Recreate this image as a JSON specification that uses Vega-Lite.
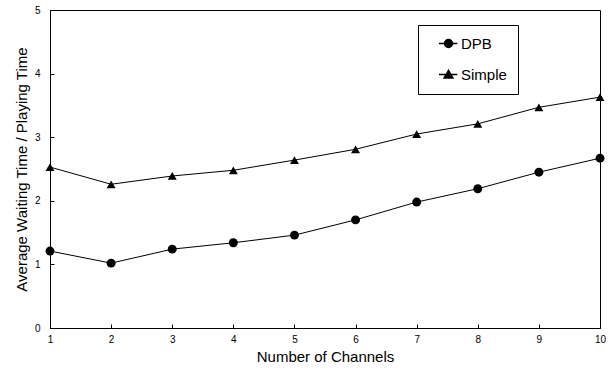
{
  "$schema": "https://vega.github.io/schema/vega-lite/v6.json",
  "autosize": "none",
  "width": 550,
  "height": 318,
  "padding": {"left": 50, "top": 10, "right": 12, "bottom": 45},
  "background": "white",
  "config": {
    "view": {"stroke": "black", "strokeWidth": 1},
    "font": "Liberation Sans",
    "axis": {"grid": false, "domainColor": "black", "tickColor": "black", "labelColor": "black", "titleColor": "black", "titleFontWeight": "normal"}
  },
  "data": {
    "values": [
      {"channels": 1, "series": "DPB", "value": 1.21},
      {"channels": 2, "series": "DPB", "value": 1.02},
      {"channels": 3, "series": "DPB", "value": 1.24},
      {"channels": 4, "series": "DPB", "value": 1.34},
      {"channels": 5, "series": "DPB", "value": 1.46},
      {"channels": 6, "series": "DPB", "value": 1.70},
      {"channels": 7, "series": "DPB", "value": 1.98},
      {"channels": 8, "series": "DPB", "value": 2.19},
      {"channels": 9, "series": "DPB", "value": 2.45},
      {"channels": 10, "series": "DPB", "value": 2.67},
      {"channels": 1, "series": "Simple", "value": 2.53},
      {"channels": 2, "series": "Simple", "value": 2.26},
      {"channels": 3, "series": "Simple", "value": 2.39},
      {"channels": 4, "series": "Simple", "value": 2.48},
      {"channels": 5, "series": "Simple", "value": 2.64},
      {"channels": 6, "series": "Simple", "value": 2.81},
      {"channels": 7, "series": "Simple", "value": 3.05},
      {"channels": 8, "series": "Simple", "value": 3.21},
      {"channels": 9, "series": "Simple", "value": 3.47},
      {"channels": 10, "series": "Simple", "value": 3.63}
    ]
  },
  "encoding": {
    "x": {
      "field": "channels", "type": "quantitative",
      "scale": {"domain": [1, 10], "nice": false, "zero": false},
      "axis": {"title": "Number of Channels", "values": [1,2,3,4,5,6,7,8,9,10], "tickSize": -4, "labelPadding": 10, "labelFontSize": 10, "titleFontSize": 15, "titlePadding": 5, "labelFlush": false}
    },
    "y": {
      "field": "value", "type": "quantitative",
      "scale": {"domain": [0, 5], "nice": false},
      "axis": {"title": "Average Waiting Time / Playing Time", "values": [0,1,2,3,4,5], "tickSize": -4, "labelPadding": 14, "labelFontSize": 10, "titleFontSize": 15, "titlePadding": 5}
    }
  },
  "layer": [
    {
      "mark": {"type": "line", "color": "black", "strokeWidth": 1},
      "encoding": {"detail": {"field": "series"}}
    },
    {
      "mark": {"type": "point", "filled": true, "color": "black", "opacity": 1, "size": 80},
      "encoding": {
        "shape": {
          "field": "series", "type": "nominal",
          "scale": {"domain": ["DPB", "Simple"], "range": ["circle", "triangle-up"]},
          "legend": null
        }
      }
    },
    {
      "transform": [{"filter": "false"}],
      "mark": {"type": "point", "filled": false, "fill": "black", "stroke": "black", "strokeWidth": 1, "opacity": 1, "size": 64},
      "encoding": {
        "shape": {
          "field": "series", "type": "nominal",
          "scale": {"domain": ["DPB", "Simple"], "range": ["M-2.4,0L2.2,0M1,0A1,1,0,1,1,-1,0A1,1,0,1,1,1,0Z", "M-2.4,0L2.2,0M0,-1L1.1,0.85L-1.1,0.85Z"]},
          "legend": {
            "title": null,
            "orient": "none",
            "legendX": 368,
            "legendY": 15,
            "strokeColor": "black",
            "fillColor": "white",
            "padding": 11,
            "symbolOffset": 12,
            "rowPadding": 15,
            "labelFontSize": 15,
            "labelColor": "black",
            "symbolSize": 64,
            "symbolOpacity": 1,
            "labelOffset": 5,
            "encode": {
              "symbols": {
                "update": {
                  "fill": {"value": "black"},
                  "stroke": {"value": "black"},
                  "strokeWidth": {"value": 1},
                  "opacity": {"value": 1}
                }
              }
            }
          }
        }
      }
    }
  ],
  "resolve": {"scale": {"shape": "independent"}}
}
